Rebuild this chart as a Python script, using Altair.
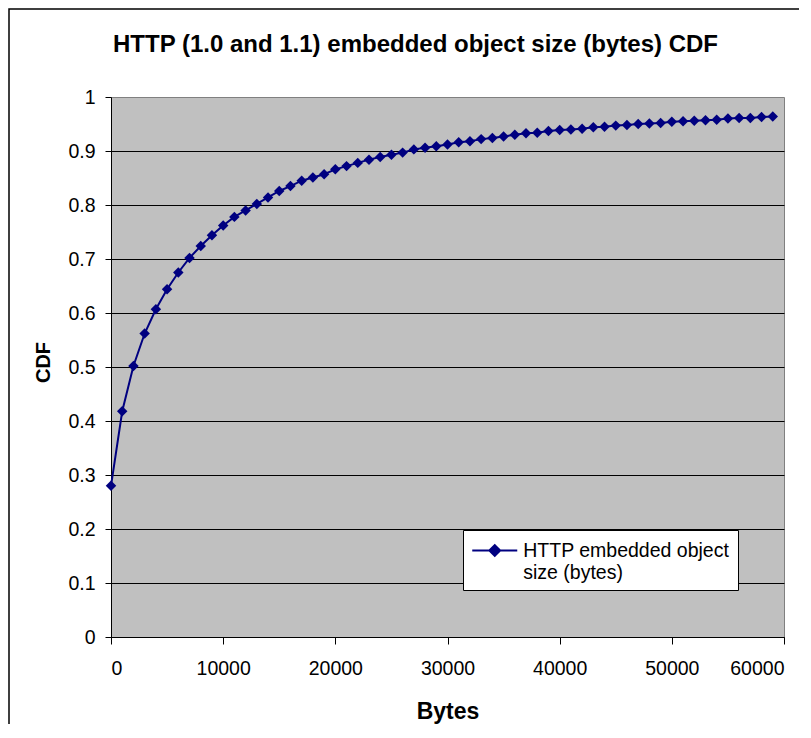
import altair as alt
import pandas as pd

# ---- data ----
bytes_x = [0, 1000, 2000, 3000, 4000, 5000, 6000, 7000, 8000, 9000,
           10000, 11000, 12000, 13000, 14000, 15000, 16000, 17000, 18000, 19000,
           20000, 21000, 22000, 23000, 24000, 25000, 26000, 27000, 28000, 29000,
           30000, 31000, 32000, 33000, 34000, 35000, 36000, 37000, 38000, 39000,
           40000, 41000, 42000, 43000, 44000, 45000, 46000, 47000, 48000, 49000,
           50000, 51000, 52000, 53000, 54000, 55000, 56000, 57000, 58000, 59000]
cdf = [0.280, 0.418, 0.502, 0.562, 0.607, 0.644, 0.675, 0.702, 0.724, 0.744,
       0.762, 0.778, 0.790, 0.802, 0.814, 0.826, 0.835, 0.845, 0.851, 0.857,
       0.866, 0.872, 0.878, 0.884, 0.889, 0.893, 0.897, 0.903, 0.906, 0.909,
       0.912, 0.916, 0.918, 0.922, 0.924, 0.927, 0.930, 0.933, 0.934, 0.937,
       0.939, 0.940, 0.941, 0.944, 0.945, 0.947, 0.948, 0.950, 0.951, 0.952,
       0.954, 0.955, 0.956, 0.957, 0.958, 0.960, 0.961, 0.961, 0.963, 0.964]
series_name = "HTTP embedded object size (bytes)"
legend_lines = ["HTTP embedded object", "size (bytes)"]
x_ticks = [0, 10000, 20000, 30000, 40000, 50000, 60000]
y_ticks = [0, 0.1, 0.2, 0.3, 0.4, 0.5, 0.6, 0.7, 0.8, 0.9, 1.0]
title_text = "HTTP (1.0 and 1.1) embedded object size (bytes) CDF"

df = pd.DataFrame({"Bytes": bytes_x, "CDF": cdf, "series": [series_name] * len(bytes_x)})

FONT = "Liberation Sans"
NAVY = "#000080"

label_expr = "[" + ", ".join("'" + s + "'" for s in legend_lines) + "]"

frame = alt.Chart(alt.Data(values=[{}])).mark_rect(
    fill="transparent", stroke="black", strokeWidth=1.5
).encode(
    x=alt.value(-102), x2=alt.value(900), y=alt.value(-88), y2=alt.value(800)
)

line = alt.Chart(df).mark_line(
    strokeWidth=2,
    point=alt.OverlayMarkDef(shape="diamond", size=110, filled=True, strokeWidth=0),
).encode(
    x=alt.X(
        "Bytes:Q",
        scale=alt.Scale(domain=[0, 60000], nice=False),
        axis=alt.Axis(
            values=x_ticks, format="d", grid=False, tickSize=7, labelPadding=15,
            title="Bytes", titleFontSize=23, titleX=336.5, titleY=81,
            titleBaseline="alphabetic", titleAlign="center",
        ),
    ),
    y=alt.Y(
        "CDF:Q",
        scale=alt.Scale(domain=[0, 1], nice=False),
        axis=alt.Axis(
            values=y_ticks, format=".1~f", grid=True, tickSize=6, labelPadding=10,
            gridOpacity={"condition": {"test": "datum.value >= 1", "value": 0}, "value": 1},
            title="CDF", titleFontSize=20, titleX=-68, titleY=265,
            titleBaseline="middle", titleAlign="center", titleAngle=270,
        ),
    ),
    color=alt.Color(
        "series:N",
        scale=alt.Scale(range=[NAVY]),
        legend=alt.Legend(
            title=None, orient="none", legendX=352, legendY=433,
            fillColor="white", strokeColor="black", padding=8, cornerRadius=0,
            symbolType="M-2,0H2M-0.48,0L0,-0.48L0.48,0L0,0.48Z", symbolSize=506.25,
            symbolStrokeWidth=2, symbolStrokeColor=NAVY, symbolFillColor=NAVY,
            symbolOffset=11.25, labelOffset=16, labelFont=FONT, labelFontSize=19.5,
            labelColor="black", labelLimit=400, labelExpr=label_expr,
        ),
    ),
)

chart = alt.layer(frame, line).properties(
    width=673,
    height=540,
    title=alt.TitleParams(
        text=title_text, font=FONT, fontSize=24, fontWeight="bold", color="black",
        anchor="middle", frame="group", dx=-32, dy=68, offset=0, baseline="alphabetic",
    ),
    autosize=alt.AutoSizeParams(type="none"),
    padding={"left": 103, "top": 89, "right": 15, "bottom": 87},
    background="white",
).configure(
    style={"guide-label": {"lineHeight": 22}}
).configure_view(
    fill="#C0C0C0", stroke="#808080", strokeWidth=1
).configure_axis(
    labelFont=FONT, labelFontSize=19.5, labelColor="black",
    titleFont=FONT, titleColor="black", titleFontWeight="bold",
    domainColor="black", domainWidth=1, tickColor="black", tickWidth=1,
    gridColor="black", gridWidth=1,
)

chart.save("out.html", embed_options={"renderer": "svg", "actions": False})
